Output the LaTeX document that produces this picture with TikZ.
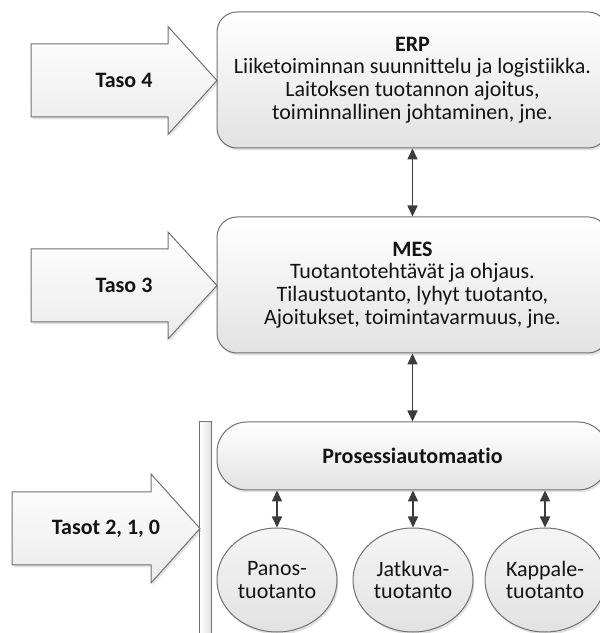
\documentclass[tikz,border=0pt]{standalone}
\usepackage{fontspec}
\setmainfont{Carlito}[Ligatures={NoCommon}]
\usetikzlibrary{arrows.meta,shadows,shapes.geometric}

\definecolor{edge}{HTML}{707070}
\definecolor{link}{HTML}{3C3C3C}
\definecolor{ink}{HTML}{141414}
\definecolor{shadeend}{HTML}{E2E2E2}

\begin{document}
\begin{tikzpicture}[x=1bp,y=1bp,
  font=\fontsize{22bp}{22.7bp}\selectfont, text=ink,
  softshadow/.style={drop shadow={shadow xshift=1.5bp, shadow yshift=-2.5bp, opacity=0.22}},
  panel/.style={draw=edge, line width=1bp, top color=white, bottom color=shadeend,
    softshadow, align=center, inner sep=0pt, minimum width=391bp},
  bigbox/.style={panel, rounded corners=20bp, minimum height=136bp},
  procbox/.style={panel, rounded corners=30bp, minimum height=68bp},
  unit/.style={draw=edge, line width=1bp, top color=white!96!black, bottom color=shadeend,
    softshadow, ellipse, minimum width=120bp, minimum height=104bp, inner sep=0pt, align=center},
  levelarrow/.style={draw=edge, line width=1bp, top color=white, bottom color=shadeend!70!white, softshadow},
  levellabel/.style={font=\fontsize{22bp}{22.7bp}\selectfont\bfseries},
  link/.style={draw=link, line width=1.6bp, {Triangle[length=11bp,width=10bp]}-{Triangle[length=11bp,width=10bp]}}
]
\useasboundingbox (0,0) rectangle (600,633);
\clip (0,0) rectangle (600,633);

% level boxes
\node[bigbox] (erp) at (412.5,553) {\textbf{ERP}\\Liiketoiminnan suunnittelu ja logistiikka.\\Laitoksen tuotannon ajoitus,\\toiminnallinen johtaminen, jne.};
\node[bigbox] (mes) at (412.5,348) {\textbf{MES}\\Tuotantotehtävät ja ohjaus.\\Tilaustuotanto, lyhyt tuotanto,\\Ajoitukset, toimintavarmuus, jne.};
\node[procbox] (proc) at (412.5,177) {\textbf{Prosessiautomaatio}};

% production types
\node[unit] (panos) at (277,53) {Panos-\\tuotanto};
\node[unit] (jatkuva) at (413,53) {Jatkuva-\\tuotanto};
\node[unit] (kappale) at (545,53) {Kappale-\\tuotanto};

% vertical bar grouping the lowest levels
\path[draw=edge, line width=1bp, left color=white, right color=shadeend] (199,-5) rectangle (211,211);

% level arrows
\path[levelarrow] (31,589) -- (168,589) -- (168,606.5) -- (217,552.5) -- (168,498.5) -- (168,516) -- (31,516) -- cycle;
\node[levellabel] (t4) at (124,552.5) {Taso 4};

\path[levelarrow] (31,384) -- (168,384) -- (168,401) -- (217,347.5) -- (168,294) -- (168,311) -- (31,311) -- cycle;
\node[levellabel] (t3) at (124,347.5) {Taso 3};

\path[levelarrow] (12,141) -- (151,141) -- (151,159) -- (200,104.5) -- (151,50) -- (151,68) -- (12,68) -- cycle;
\node[levellabel] (t210) at (106,104.5) {Tasot 2, 1, 0};

% connectors
\draw[link] (erp) -- (mes);
\draw[link] (mes) -- (proc);
\draw[link] (panos.north |- proc.south) -- (panos.north);
\draw[link] (jatkuva.north |- proc.south) -- (jatkuva.north);
\draw[link, line width=2.3bp] (kappale.north |- proc.south) -- (kappale.north);
\end{tikzpicture}
\end{document}
